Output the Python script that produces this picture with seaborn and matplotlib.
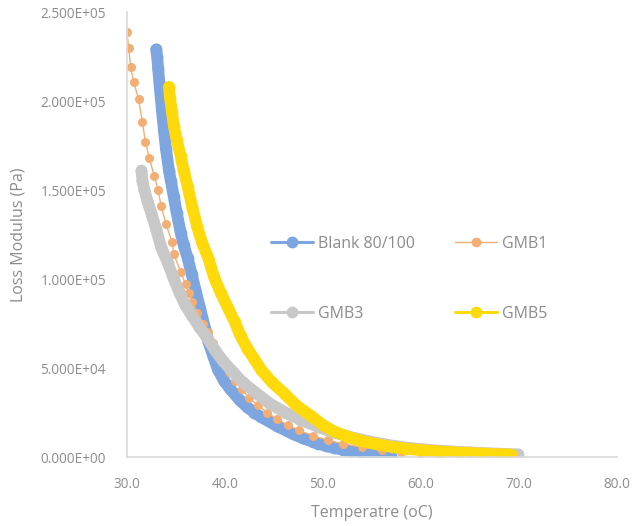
import numpy as np
import pandas as pd
import matplotlib
matplotlib.use("Agg")
import matplotlib.pyplot as plt
import seaborn as sns
from matplotlib.lines import Line2D
from matplotlib.ticker import FuncFormatter

# Loss modulus (x1000 Pa) vs temperature (oC)
blank_T = [33.0, 33.1, 33.2, 33.4, 33.6, 33.8, 34.0, 34.3, 34.5, 34.8, 35.1, 35.5, 35.8, 36.2,
           36.6, 37.0, 37.5, 38.0, 38.3, 38.8, 39.3, 39.9, 40.5, 40.9, 41.5, 42.3, 43.0, 43.7,
           44.5, 45.3, 46.2, 47.0, 48.0, 49.0, 49.5, 50.3, 51.1, 52.0, 53.0, 54.0, 55.0, 56.0, 56.9]
blank_G = [229, 225, 218, 206, 194, 183, 173, 161, 155, 146, 137, 126, 119, 112,
           103, 94, 83, 72, 65, 57, 49, 43, 38.5, 36, 32, 28, 25, 22.5,
           20, 17.5, 15, 12.8, 10.5, 8.5, 7.6, 6.3, 5.2, 4.2, 3.3, 2.5, 1.8, 1.2, 0.7]

gmb1_T = [30.0, 30.2, 30.4, 30.7, 31.2, 31.6, 31.9, 32.3, 32.8, 33.2, 33.5, 34.0, 34.6, 34.8,
          35.5, 36.0, 36.3, 36.7, 37.2, 37.8, 38.3, 38.8, 39.3, 39.8, 40.4, 41.0, 41.7, 42.5,
          43.4, 44.3, 45.3, 46.4, 47.6, 49.0, 50.5, 52.0, 54.0, 56.0, 58.0, 60.0, 62.0, 64.0]
gmb1_G = [239, 230, 219, 211, 201, 188, 177, 168, 158, 150, 141, 131, 121, 114,
          104, 97, 92, 87, 81, 75, 70, 64, 58, 53, 48, 43, 38, 33,
          29, 25, 21.5, 18, 15, 12, 9.5, 7.5, 5.5, 4, 3, 2.3, 1.8, 1.4]

gmb3_T = [31.5, 31.6, 31.8, 32.1, 32.5, 33.0, 33.5, 34.2, 34.8, 35.4, 36.0, 36.7, 37.4, 38.2,
          39.0, 39.8, 40.8, 41.8, 43.2, 44.6, 46.2, 47.7, 49.5, 51.0, 53.0, 55.0, 57.0, 59.0,
          61.0, 63.0, 65.0, 67.0, 69.0, 69.9]
gmb3_G = [161, 155, 150, 144, 137, 128, 118, 109, 100, 92, 85, 79, 73, 67,
          60, 54, 48, 42, 36, 30, 25, 21, 17, 14, 11, 8.5, 6.5, 5,
          4, 3.2, 2.6, 2.1, 1.7, 1.5]

gmb5_T = [34.3, 34.4, 34.6, 34.8, 35.1, 35.5, 35.8, 36.2, 36.7, 37.2, 37.7, 38.3, 38.9, 39.6,
          40.3, 41.0, 41.6, 42.3, 43.0, 43.7, 44.8, 46.0, 47.3, 48.8, 50.0, 51.1, 52.5, 54.0,
          55.5, 57.0, 58.5, 60.0, 62.0, 64.0, 66.0, 68.0, 69.2]
gmb5_G = [208, 202, 194, 186, 178, 169, 161, 152, 140, 129, 120, 112, 101, 92,
          84, 76, 68, 61, 55, 49, 42, 36, 29, 23, 18, 14.5, 11.5, 9,
          7.2, 5.8, 4.7, 3.9, 3.1, 2.5, 2.0, 1.6, 1.4]

names = ["Blank 80/100", "GMB1", "GMB3", "GMB5"]
colors = ["#7DA6E0", "#F3AE74", "#C8C8C8", "#FFDA0A"]

sns.set_theme(style="white")
plt.rcParams['font.family'] = ['Open Sans', 'DejaVu Sans']

fig = plt.figure(figsize=(6.37, 5.26), dpi=100)
ax = fig.add_axes([0.199, 0.131, 0.77, 0.846])

series = [(blank_T, blank_G), (gmb1_T, gmb1_G), (gmb3_T, gmb3_G), (gmb5_T, gmb5_G)]
for (T, G), name, c in zip(series, names, colors):
    df = pd.DataFrame({"T": T, "G": np.array(G) * 1000})
    if name == "GMB1":
        sns.lineplot(data=df, x="T", y="G", ax=ax, color=c, lw=1.0, marker="o",
                     markersize=6.5, markeredgewidth=0, sort=False, estimator=None)
    else:
        sns.lineplot(data=df, x="T", y="G", ax=ax, color=c, lw=8.5, marker="o",
                     markersize=8.5, markeredgewidth=0, sort=False, estimator=None,
                     solid_capstyle="round", solid_joinstyle="round")

ax.set_xlim(30, 80)
ax.set_ylim(0, 250000)
ax.set_xticks([30, 40, 50, 60, 70, 80])
ax.set_yticks([0, 50000, 100000, 150000, 200000, 250000])
ax.xaxis.set_major_formatter(FuncFormatter(lambda v, p: f"{v:.1f}"))
ax.yaxis.set_major_formatter(FuncFormatter(lambda v, p: f"{v:.3E}"))
ax.tick_params(length=0, labelsize=9.8, labelcolor="#8C8C8C")
ax.tick_params(axis="y", pad=15)
ax.tick_params(axis="x", pad=14)
for s in ["top", "right"]:
    ax.spines[s].set_visible(False)
for s in ["left", "bottom"]:
    ax.spines[s].set_color("#D9D9D9")
    ax.spines[s].set_linewidth(1.2)
ax.set_xlabel("Temperatre (oC)", fontsize=11.5, color="#8C8C8C", labelpad=10)
ax.set_ylabel("Loss Modulus (Pa)", fontsize=11.5, color="#8C8C8C", labelpad=10)

handles = []
for name, c in zip(names, colors):
    lw = 1.0 if name == "GMB1" else 2.2
    ms = 7 if name == "GMB1" else 8.5
    handles.append(Line2D([0], [0], color=c, lw=lw, marker="o", markersize=ms,
                          markeredgewidth=0))
# legend fills column-wise, so reorder to get rows (Blank, GMB1) / (GMB3, GMB5)
order = [0, 2, 1, 3]
leg = ax.legend([handles[i] for i in order], [names[i] for i in order], ncol=2,
                frameon=False, loc="upper left", bbox_to_anchor=(0.265, 0.53),
                labelspacing=3.4, columnspacing=2.5, handlelength=2.6,
                handletextpad=0.35, fontsize=11.5)
for t in leg.get_texts():
    t.set_color("#8C8C8C")

fig.savefig("out.png", dpi=100)
